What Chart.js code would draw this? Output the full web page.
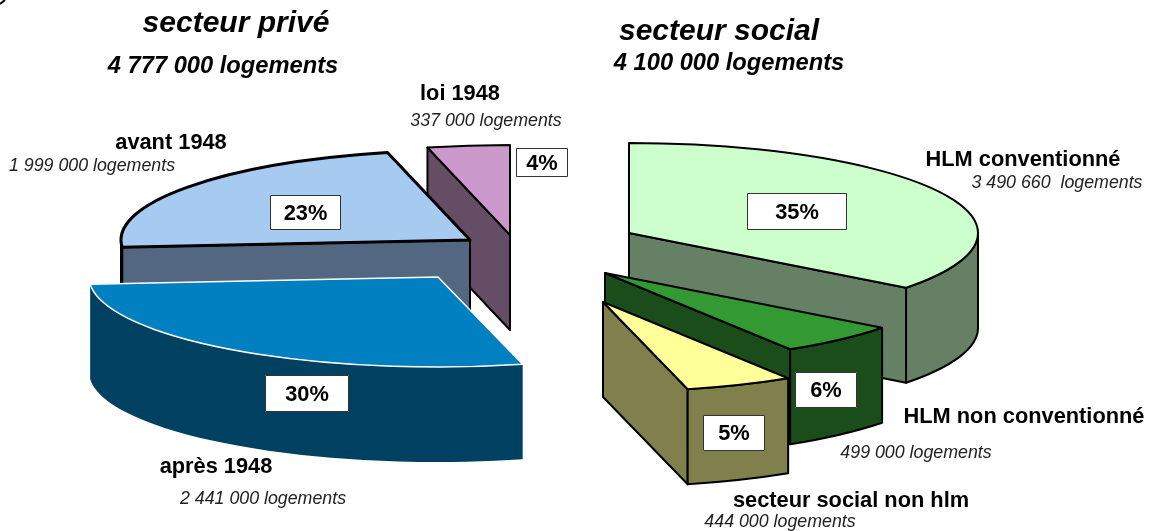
<!DOCTYPE html>
<html lang="fr">
<head>
<meta charset="utf-8">
<title>Parc locatif</title>
<script src="https://cdn.jsdelivr.net/npm/chart.js@4"></script>
<style>
  html, body { margin: 0; padding: 0; background: #fff; overflow: hidden; }
  canvas { display: block; }
</style>
</head>
<body>
<canvas id="pie3d" width="1159" height="531"></canvas>
<script>
// Parts, dans le sens horaire depuis le haut
const categories = ['HLM conventionné', 'HLM non conventionné', 'secteur social non hlm', 'après 1948', 'avant 1948', 'loi 1948'];
const sliceShares = [35.4, 5.7, 5.0, 27.6, 22.5, 3.8];
const percentLabels = ['35%', '6%', '5%', '30%', '23%', '4%'];
const housingLabels = ['3 490 660  logements', '499 000 logements', '444 000 logements', '2 441 000 logements', '1 999 000 logements', '337 000 logements'];

// Couleurs
const topColors = ['#CCFFCC', '#339933', '#FFFF99', '#0080C0', '#A6CAF0', '#CC99CC'];
const wallColors = ['#668066', '#1A4D1A', '#80804D', '#004060', '#546780', '#664D66'];
const edgeColors = ['#000', '#000', '#000', '#fff', '#000', '#000'];
const wallEdgeColors = ['#000', '#000', '#000', null, '#000', '#000'];
const edgeWidths = [2, 2, 2, 1.5, 3, 2];

// Explosion de chaque part (pointe de la part) et perspective
const explodeX = [629, 605, 603, 438, 470, 510];
const explodeY = [233, 273, 302, 277, 240, 235];
const tiltX = 1.3145;
const tiltY = 0.339;
const depth = 95;
const drawOrder = [0, 1, 2, 5, 4, 3];

function strokeIf(ctx, color, width) {
    if (!color) return;
    ctx.strokeStyle = color;
    ctx.lineWidth = width;
    ctx.lineJoin = 'round';
    ctx.stroke();
}

// Dessine la part en relief à partir des arcs calculés par Chart.js
function drawSlice(ctx, arc, i) {
    const { startAngle, endAngle, outerRadius, x, y } = arc.getProps(['startAngle', 'endAngle', 'outerRadius', 'x', 'y']);
    const ox = explodeX[i], oy = explodeY[i];
    const rx = outerRadius * tiltX, ry = outerRadius * tiltY;
    const rim = a => [ox + rx * Math.cos(a), oy + ry * Math.sin(a)];
    const wall = wallColors[i], wallEdge = wallEdgeColors[i], w = edgeWidths[i];

    // faces radiales visibles (celles tournées vers l'avant)
    [[startAngle, Math.cos(startAngle) < -1e-6], [endAngle, Math.cos(endAngle) > 1e-6]].forEach(([a, visible]) => {
        if (!visible) return;
        const [px, py] = rim(a);
        ctx.beginPath();
        ctx.moveTo(ox, oy);
        ctx.lineTo(px, py);
        ctx.lineTo(px, py + depth);
        ctx.lineTo(ox, oy + depth);
        ctx.closePath();
        ctx.fillStyle = wall;
        ctx.fill();
        strokeIf(ctx, wallEdge, 2);
    });

    // paroi extérieure (moitié avant de l'ellipse)
    const a0 = Math.max(startAngle, 0), a1 = Math.min(endAngle, Math.PI);
    if (a1 > a0) {
        ctx.beginPath();
        ctx.ellipse(ox, oy, rx, ry, 0, a0, a1);
        ctx.ellipse(ox, oy + depth, rx, ry, 0, a1, a0, true);
        ctx.closePath();
        ctx.fillStyle = wall;
        ctx.fill();
        strokeIf(ctx, wallEdge, 2);
    }

    // dessus : l'arc de Chart.js écrasé
    ctx.save();
    ctx.translate(ox, oy);
    ctx.scale(tiltX, tiltY);
    ctx.translate(-x, -y);
    arc.draw(ctx);
    ctx.restore();

    ctx.beginPath();
    ctx.moveTo(ox, oy);
    ctx.ellipse(ox, oy, rx, ry, 0, startAngle, endAngle);
    ctx.closePath();
    strokeIf(ctx, edgeColors[i], w);
}

const pie3dPlugin = {
    id: 'pie3d',
    beforeDatasetsDraw(chart) {
        const arcs = chart.getDatasetMeta(0).data;
        drawOrder.forEach(i => drawSlice(chart.ctx, arcs[i], i));
        return false;
    }
};

// Textes : [texte, x, y, police]
const TITLE = 'italic bold 30px "Liberation Sans"';
const SUB = 'italic bold 23.7px "Liberation Sans"';
const NAME = 'bold 21.8px "Liberation Sans"';
const COUNT = 'italic 17.8px "Liberation Sans"';
const textItems = [
    ['secteur privé', 236, 24, TITLE],
    ['4 777 000 logements', 223, 66, SUB],
    ['secteur social', 719, 32, TITLE],
    ['4 100 000 logements', 729, 63, SUB],
    [categories[5], 460, 94, NAME],
    [housingLabels[5], 486, 121, COUNT],
    [categories[4], 171, 143, NAME],
    [housingLabels[4], 92, 166, COUNT],
    [categories[3], 216, 467, NAME],
    [housingLabels[3], 263, 499, COUNT],
    [categories[0], 1023, 160, NAME],
    [housingLabels[0], 1057, 183, COUNT],
    [categories[1], 1024, 417, NAME],
    [housingLabels[1], 916, 453, COUNT],
    [categories[2], 851, 501, NAME],
    [housingLabels[2], 780, 522, COUNT]
];

// Étiquettes de pourcentage : x, y, largeur, hauteur de chaque boîte
const percentBoxes = [[747, 193, 100, 37], [795, 372, 62, 36], [703, 415, 62, 36], [265, 375, 84, 37], [270, 195, 71, 35], [516, 148, 52, 29]];

const textPlugin = {
    id: 'pieTexts',
    afterDraw(chart) {
        const ctx = chart.ctx;
        ctx.save();
        ctx.textAlign = 'center';
        ctx.textBaseline = 'middle';
        percentBoxes.forEach(([x, y, w, h], i) => {
            ctx.fillStyle = '#fff';
            ctx.fillRect(x, y, w, h);
            ctx.strokeStyle = '#333';
            ctx.lineWidth = 1;
            ctx.strokeRect(x + 0.5, y + 0.5, w - 1, h - 1);
            ctx.fillStyle = '#000';
            ctx.font = NAME;
            ctx.fillText(percentLabels[i], x + w / 2, y + h / 2 + 1);
        });
        textItems.forEach(([text, x, y, font]) => {
            ctx.font = font;
            ctx.fillStyle = font === COUNT ? '#222' : '#000';
            ctx.fillText(text, x, y);
        });
        // petit trait de coin présent sur l'image d'origine
        ctx.beginPath();
        ctx.moveTo(0, 4);
        ctx.lineTo(5, 0);
        ctx.strokeStyle = '#000';
        ctx.lineWidth = 2;
        ctx.stroke();
        ctx.restore();
    }
};

new Chart(document.getElementById('pie3d').getContext('2d'), {
    type: 'pie',
    data: {
        labels: categories,
        datasets: [{
            data: sliceShares,
            backgroundColor: topColors,
            borderWidth: 0
        }]
    },
    options: {
        responsive: false,
        animation: false,
        layout: { padding: 0 },
        plugins: { legend: { display: false }, tooltip: { enabled: false } }
    },
    plugins: [pie3dPlugin, textPlugin]
});
</script>
</body>
</html>
